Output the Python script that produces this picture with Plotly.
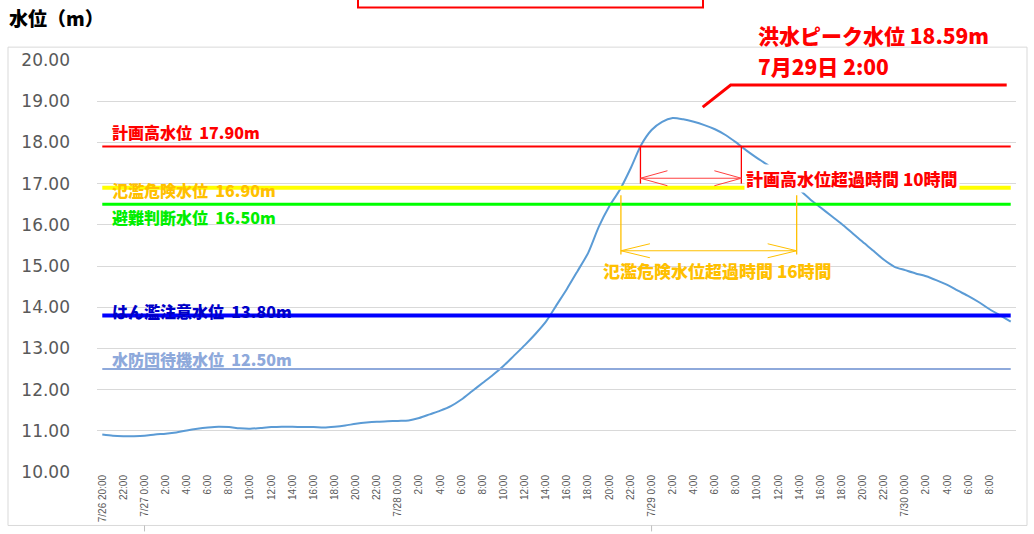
import plotly.graph_objects as go

# Hourly water level (m), 7/26 20:00 to 7/30 10:00
water_level = [
    10.91, 10.88, 10.87, 10.87, 10.88, 10.91, 10.93, 10.96, 11.01, 11.05,
    11.08, 11.10, 11.09, 11.06, 11.05, 11.07, 11.09, 11.10, 11.10, 11.09,
    11.09, 11.08, 11.10, 11.13, 11.17, 11.20, 11.22, 11.23, 11.24, 11.25,
    11.31, 11.40, 11.49, 11.60, 11.76, 11.96, 12.16, 12.36, 12.58, 12.83,
    13.08, 13.35, 13.65, 14.05, 14.45, 14.88, 15.32, 15.95, 16.45, 16.85,
    17.36, 17.93, 18.30, 18.50, 18.59, 18.56, 18.50, 18.42, 18.32, 18.18,
    18.00, 17.80, 17.62, 17.45, 17.25, 17.04, 16.85, 16.62, 16.42, 16.22,
    16.02, 15.80, 15.58, 15.37, 15.15, 14.98, 14.90, 14.82, 14.75, 14.65,
    14.54, 14.40, 14.27, 14.12, 13.95, 13.80, 13.65,
]
hours = list(range(len(water_level)))

# Axis labels every two hours
tick_hours = list(range(0, 85, 2))
tick_labels = [
    "7/26 20:00", "22:00",
    "7/27 0:00", "2:00", "4:00", "6:00", "8:00", "10:00", "12:00", "14:00",
    "16:00", "18:00", "20:00", "22:00",
    "7/28 0:00", "2:00", "4:00", "6:00", "8:00", "10:00", "12:00", "14:00",
    "16:00", "18:00", "20:00", "22:00",
    "7/29 0:00", "2:00", "4:00", "6:00", "8:00", "10:00", "12:00", "14:00",
    "16:00", "18:00", "20:00", "22:00",
    "7/30 0:00", "2:00", "4:00", "6:00", "8:00",
]
y_ticks = [10, 11, 12, 13, 14, 15, 16, 17, 18, 19, 20]

# Reference water levels
threshold_names = ["計画高水位", "氾濫危険水位", "避難判断水位", "はん濫注意水位", "水防団待機水位"]
threshold_levels = [17.90, 16.90, 16.50, 13.80, 12.50]
threshold_line_colors = ["#FF0000", "#FFFF00", "#00FF00", "#0000FF", "#8EA9DB"]
threshold_text_colors = ["#FF0000", "#FFC000", "#00EE00", "#0000C8", "#8EA9DB"]
threshold_widths = [2, 4, 3, 4, 2]
threshold_label_shift = [15, -2, -13, 4, 10]

peak_idx = max(hours, key=lambda i: water_level[i])
peak_value = water_level[peak_idx]

JP = "Noto Sans CJK JP"
NUM = "DejaVu Sans"

# Plot-area geometry in pixels (used for the frame and the title placement)
W_FIG, H_FIG = 1034, 534
M_L, M_R, M_T, M_B = 97, 18, 60, 58
PW, PH = W_FIG - M_L - M_R, H_FIG - M_T - M_B


def paper_x(px):
    return (px - M_L) / PW


def paper_y(py):
    return (M_T + PH - py) / PH


def crossings(level):
    """Interpolated hours where the hydrograph rises above and falls below a level."""
    up = down = None
    for i in range(1, len(water_level)):
        a, b = water_level[i - 1], water_level[i]
        if a < level <= b and up is None:
            up = i - 1 + (level - a) / (b - a)
        if a >= level > b and up is not None and down is None:
            down = i - 1 + (a - level) / (a - b)
    return up, down


def jp_font(size, color):
    return dict(family=JP, size=size, color=color, weight=900)


fig = go.Figure()

fig.add_trace(go.Scatter(
    x=hours, y=water_level, mode="lines",
    line=dict(color="#5B9BD5", width=2, shape="spline", smoothing=0.7),
    hoverinfo="skip", showlegend=False,
))

for lv, col, w in zip(threshold_levels, threshold_line_colors, threshold_widths):
    fig.add_trace(go.Scatter(
        x=[hours[0], hours[-1]], y=[lv, lv], mode="lines",
        line=dict(color=col, width=w), hoverinfo="skip", showlegend=False,
    ))

annotations = []
shapes = []

for name, lv, col, ys in zip(threshold_names, threshold_levels,
                             threshold_text_colors, threshold_label_shift):
    annotations.append(dict(
        x=hours[0], y=lv, xref="x", yref="y", xanchor="left", yanchor="middle",
        xshift=8, yshift=ys, showarrow=False,
        text=f"{name}  {lv:.2f}m",
        font=jp_font(16, col),
    ))


def span_marker(level, arrow_y, top, bottom, color, line_col, head_len, head_h):
    c1, c2 = crossings(level)
    for cx in (c1, c2):
        shapes.append(dict(type="line", xref="x", yref="y", x0=cx, x1=cx,
                           y0=top, y1=bottom, line=dict(color=color, width=1.3)))
    shapes.append(dict(type="line", xref="x", yref="y", x0=c1, x1=c2,
                       y0=arrow_y, y1=arrow_y, line=dict(color=line_col, width=1)))
    for cx, sgn in ((c1, 1), (c2, -1)):
        for dy in (head_h, -head_h):
            shapes.append(dict(
                type="line", xref="x", yref="y",
                xsizemode="pixel", ysizemode="pixel",
                xanchor=cx, yanchor=arrow_y,
                x0=0, x1=sgn * head_len, y0=0, y1=dy,
                line=dict(color=line_col, width=1),
            ))
    return c1, c2


# Time above the planned high water level
r1, r2 = span_marker(threshold_levels[0], 17.13, 17.90, 17.0,
                     "#FF0000", "#FF4040", 27, 7.5)
annotations.append(dict(
    x=r2, y=17.13, xref="x", yref="y", xanchor="left", yanchor="middle",
    xshift=3, showarrow=False, bgcolor="white", borderpad=1,
    text="計画高水位超過時間 10時間",
    font=jp_font(17, "#FF0000"),
))

# Time above the flood danger level
o1, o2 = span_marker(threshold_levels[1], 15.37, 16.72, 15.28,
                     "#FFC000", "#FFC000", 29, 7)
annotations.append(dict(
    x=o1, y=14.88, xref="x", yref="y", xanchor="left", yanchor="middle",
    xshift=-20, showarrow=False,
    text="氾濫危険水位超過時間 16時間",
    font=jp_font(17, "#FFC000"),
))

# Peak call-out (two lines)
for line_text, lift in ((f"洪水ピーク水位 {peak_value:.2f}m", 83),
                        ("7月29日 2:00", 52)):
    annotations.append(dict(
        x=peak_idx, y=peak_value, xref="x", yref="y", xanchor="left", yanchor="middle",
        xshift=83, yshift=lift, showarrow=False,
        text=line_text, font=jp_font(21, "#FF0000"),
    ))
shapes.append(dict(
    type="path", xref="x", yref="y", xsizemode="pixel", ysizemode="pixel",
    xanchor=peak_idx, yanchor=peak_value,
    path="M30,11 L58,33 L334,33", line=dict(color="#FF0000", width=3),
))

# Axis title
annotations.append(dict(
    x=paper_x(7), y=paper_y(17), xref="paper", yref="paper",
    xanchor="left", yanchor="middle", showarrow=False,
    text="水位（m）", font=jp_font(19, "#000000"),
))

# Chart frame, heading box and the day separators below the frame
shapes.append(dict(type="rect", xref="paper", yref="paper",
                   x0=paper_x(8), x1=paper_x(1027), y0=paper_y(530), y1=paper_y(47),
                   line=dict(color="#D9D9D9", width=1), layer="below"))
shapes.append(dict(type="rect", xref="paper", yref="paper",
                   x0=paper_x(358), x1=paper_x(703), y0=paper_y(7), y1=paper_y(-12),
                   line=dict(color="#FF0000", width=2)))
for day_hour in (4, 52):
    shapes.append(dict(type="line", xref="x", yref="paper", x0=day_hour, x1=day_hour,
                       y0=paper_y(530), y1=paper_y(536),
                       line=dict(color="#BFBFBF", width=1)))

fig.update_layout(
    width=W_FIG, height=H_FIG,
    margin=dict(l=M_L, r=M_R, t=M_T, b=M_B),
    paper_bgcolor="white", plot_bgcolor="white",
    showlegend=False,
    annotations=annotations, shapes=shapes,
    xaxis=dict(
        range=[-0.5, len(hours) - 0.5],
        tickmode="array", tickvals=tick_hours, ticktext=tick_labels,
        tickangle=-90, ticks="", showgrid=False, zeroline=False, showline=False,
        tickfont=dict(family="Liberation Sans Narrow, Liberation Sans", size=10, color="#595959"),
    ),
    yaxis=dict(
        range=[10, 20], tickmode="array", tickvals=y_ticks,
        ticktext=[f"{v:.2f}" for v in y_ticks],
        showgrid=True, gridcolor="#D9D9D9", gridwidth=1, zeroline=False,
        showline=False, ticks="", ticklabelstandoff=26,
        tickfont=dict(family=NUM, size=17, color="#595959"),
    ),
)

fig.write_html("out.html")
